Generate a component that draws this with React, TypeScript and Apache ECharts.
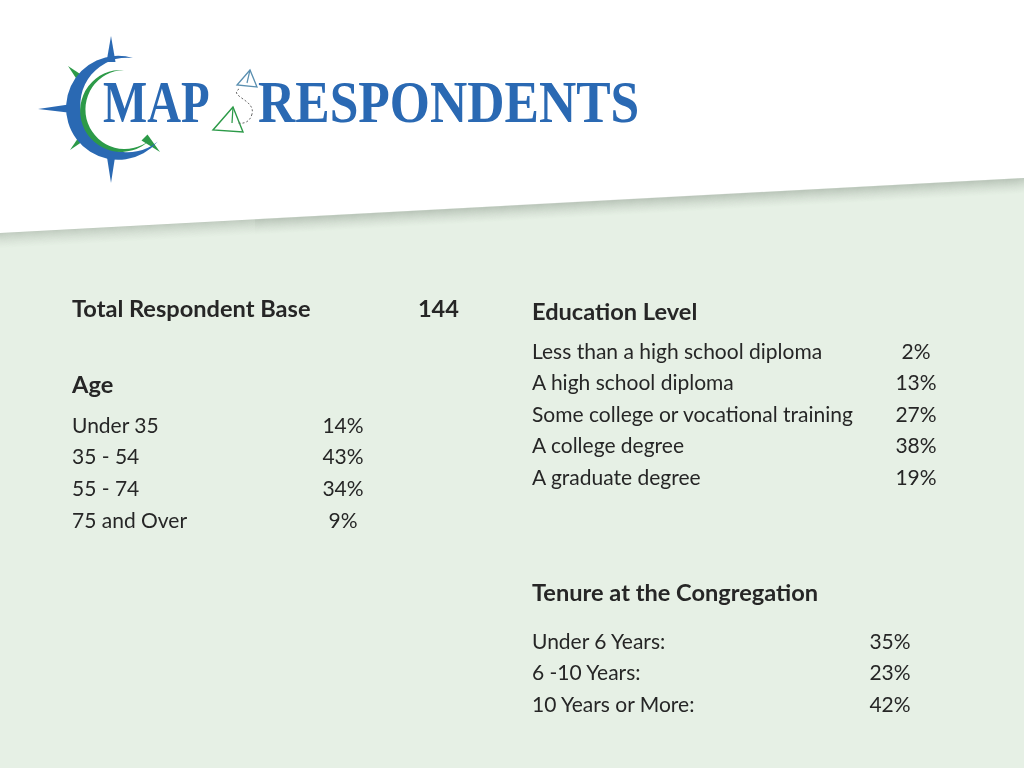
import React, { useEffect, useRef } from "react";
import * as echarts from "echarts";

// ---- Data ----
const totalLabel = "Total Respondent Base";
const totalValue = 144;

const ageTitle = "Age";
const ageCategories = ["Under 35", "35 - 54", "55 - 74", "75 and Over"];
const ageValues = [14, 43, 34, 9];

const eduTitle = "Education Level";
const eduCategories = [
  "Less than a high school diploma",
  "A high school diploma",
  "Some college or vocational training",
  "A college degree",
  "A graduate degree",
];
const eduValues = [2, 13, 27, 38, 19];

const tenureTitle = "Tenure at the Congregation";
const tenureCategories = ["Under 6 Years:", "6 -10 Years:", "10 Years or More:"];
const tenureValues = [35, 23, 42];

const logoWords = ["MAP", "RESPONDENTS"];

// ---- Styles ----
const FONT = "Lato";
const TEXT_COLOR = "#262626";
const BLUE = "#2a69b3";
const GREEN = "#2c9a48";
const BG_GREEN = "#e6f0e5";
const REG = 21;
const BOLD = 23.6;

let registered = false;
function registerShapes() {
  if (registered) return;
  registered = true;
  echarts.graphic.registerShape(
    "crescentBlue",
    echarts.graphic.extendPath(
      "M133 58 A52 52 0 1 0 157.8 141.4 A47.3 47.3 0 1 1 133 58 Z",
      {}
    )
  );
  echarts.graphic.registerShape(
    "crescentGreen",
    echarts.graphic.extendPath(
      "M124 70 A41 41 0 1 0 150 140 A39.5 39.5 0 1 1 124 70 Z",
      {}
    )
  );
}

function textEl(x: number, y: number, text: string, size: number, bold: boolean, align = "left") {
  return {
    type: "text",
    x,
    y,
    style: {
      text,
      fill: TEXT_COLOR,
      font: `${bold ? "bold " : ""}${size}px ${FONT}`,
      align,
      verticalAlign: "middle",
    },
  };
}

export default function App() {
  const ref = useRef<HTMLDivElement>(null);
  useEffect(() => {
    if (!ref.current) return;
    registerShapes();
    const chart = echarts.init(ref.current, null, { renderer: "svg" });

    const W = 1024;
    const H = 768;
    const elements: any[] = [];

    // background
    elements.push({ type: "rect", shape: { x: 0, y: 0, width: W, height: H }, style: { fill: "#ffffff" } });
    elements.push({
      type: "polygon",
      shape: { points: [[0, 233], [W, 178], [W, H], [0, H]] },
      style: { fill: BG_GREEN },
    });
    for (let i = 0; i < 16; i++) {
      const a = 0.34 * Math.pow(1 - i / 16, 1.6);
      elements.push({
        type: "polyline",
        shape: { points: [[0, 233.5 + i], [W, 178.5 + i]] },
        style: { stroke: `rgba(120,135,120,${a.toFixed(3)})`, lineWidth: 1.2, fill: null },
      });
    }

    // ---- logo ----
    const cx = 111;
    const cy = 108;
    const diag = [
      [[68, 66], [87, 78.5], [80.5, 85]],
      [[70, 150], [88.5, 137.5], [82.5, 131.5]],
      [[160, 152], [147.5, 134.5], [141.5, 140.5]],
    ];
    diag.forEach((pts) => {
      elements.push({ type: "polygon", shape: { points: pts }, style: { fill: GREEN } });
    });
    elements.push({
      type: "polygon",
      shape: { points: [[cx, 36], [cx + 4.5, 62], [cx - 4.5, 62]] },
      style: { fill: BLUE },
    });
    elements.push({
      type: "polygon",
      shape: { points: [[cx, 183], [cx + 4.5, 154], [cx - 4.5, 154]] },
      style: { fill: BLUE },
    });
    elements.push({
      type: "polygon",
      shape: { points: [[38, cy + 1], [72, cy - 4], [72, cy + 5]] },
      style: { fill: BLUE },
    });
    elements.push({ type: "crescentBlue", x: 0, y: 0, style: { fill: BLUE } });
    elements.push({ type: "crescentGreen", x: 0, y: 0, style: { fill: GREEN } });

    elements.push({
      type: "text",
      x: 103,
      y: 102,
      scaleX: 0.78,
      style: {
        text: logoWords[0],
        fill: BLUE,
        font: "bold 60px 'Liberation Serif'",
        align: "left",
        verticalAlign: "middle",
      },
    });
    elements.push({
      type: "text",
      x: 258,
      y: 102,
      scaleX: 0.86,
      style: {
        text: logoWords[1],
        fill: BLUE,
        font: "bold 60px 'Liberation Serif'",
        align: "left",
        verticalAlign: "middle",
      },
    });
    // paper planes + dotted trail
    const planeBlue = "#5a8fb0";
    elements.push({
      type: "polygon",
      shape: { points: [[250, 70], [237, 85], [257, 87]] },
      style: { stroke: planeBlue, lineWidth: 1.3, fill: null },
    });
    elements.push({
      type: "line",
      shape: { x1: 250, y1: 70, x2: 247, y2: 83 },
      style: { stroke: planeBlue, lineWidth: 1.2 },
    });
    elements.push({
      type: "polygon",
      shape: { points: [[233, 107], [213, 130], [243, 132]] },
      style: { stroke: GREEN, lineWidth: 1.4, fill: null },
    });
    elements.push({
      type: "line",
      shape: { x1: 233, y1: 107, x2: 232, y2: 123 },
      style: { stroke: GREEN, lineWidth: 1.2 },
    });
    elements.push({
      type: "bezierCurve",
      shape: { x1: 239, y1: 89, cpx1: 228, cpy1: 96, cpx2: 256, cpy2: 100, x2: 252, y2: 114, percent: 1 },
      style: { stroke: "#666", lineWidth: 1, lineDash: [2, 2], fill: null },
    });
    elements.push({
      type: "bezierCurve",
      shape: { x1: 252, y1: 114, cpx1: 250, cpy1: 122, cpx2: 244, cpy2: 124, x2: 238, y2: 123, percent: 1 },
      style: { stroke: "#666", lineWidth: 1, lineDash: [2, 2], fill: null },
    });

    // ---- text blocks ----
    elements.push(textEl(72, 308, totalLabel, BOLD, true));
    elements.push(textEl(459, 308, String(totalValue), BOLD, true, "right"));

    elements.push(textEl(72, 384, ageTitle, BOLD, true));
    ageCategories.forEach((c, i) => {
      const y = 424 + i * 31.7;
      elements.push(textEl(72, y, c, REG, false));
      elements.push(textEl(343, y, `${ageValues[i]}%`, REG, false, "center"));
    });

    elements.push(textEl(532, 311, eduTitle, BOLD, true));
    eduCategories.forEach((c, i) => {
      const y = 350 + i * 31.6;
      elements.push(textEl(532, y, c, REG, false));
      elements.push(textEl(916, y, `${eduValues[i]}%`, REG, false, "center"));
    });

    elements.push(textEl(532, 592, tenureTitle, BOLD, true));
    tenureCategories.forEach((c, i) => {
      const y = 640 + i * 31.5;
      elements.push(textEl(532, y, c, REG, false));
      elements.push(textEl(890, y, `${tenureValues[i]}%`, REG, false, "center"));
    });

    chart.setOption({
      animation: false,
      graphic: { elements },
    });
    return () => chart.dispose();
  }, []);

  return (
    <div
      ref={ref}
      style={{ position: "fixed", left: 0, top: 0, width: 1024, height: 768 }}
    />
  );
}
